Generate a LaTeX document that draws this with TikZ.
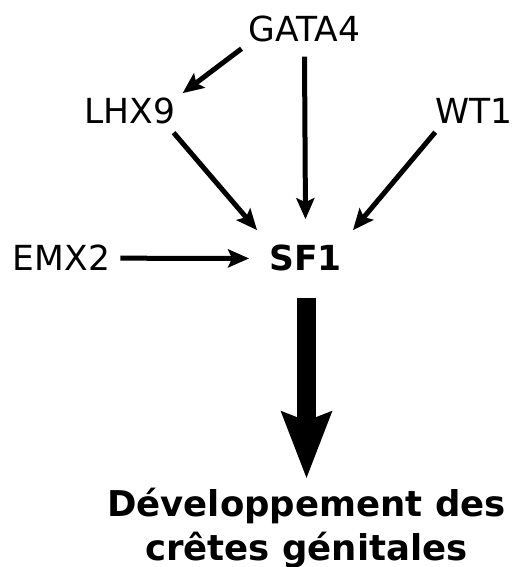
\documentclass[tikz,border=0pt]{standalone}
\usepackage{fontspec}
\setmainfont{DejaVu Sans}
\usetikzlibrary{arrows.meta,calc}
\begin{document}
\begin{tikzpicture}[x=1pt,y=-1pt,
  gene/.style={inner sep=0pt,anchor=base,font=\fontsize{34.5}{40}\selectfont},
  hub/.style={gene,font=\fontsize{34.5}{40}\selectfont\bfseries},
  link/.style={line width=5pt,-{Stealth[length=21pt,width=18pt,inset=4pt]}},
  big/.style={line width=19pt,-{Stealth[length=66pt,width=48pt,inset=8pt]}},
  result/.style={inner sep=0pt,anchor=north,align=center,font=\fontsize{35.5}{44}\selectfont\bfseries}]
\useasboundingbox (0,0) rectangle (513,567);
\node[gene] (gata) at (304.5,42) {GATA4};
\node[gene] (lhx) at (130,124) {LHX9};
\node[gene] (wt) at (474,124) {WT1};
\node[gene] (emx) at (61.5,270) {EMX2};
\node[hub] (sf) at (305.5,270) {SF1};
\node[result] (dev) at (306.5,488) {Développement des\\crêtes génitales};
\draw[link] ($(gata.south west)+(-7,6)$) -- ($(lhx.north east)+(7,-5)$);
\draw[link] ($(gata.south)+(0,14)$) -- ($(gata.south)!1!(sf.north)+(0,-25)$);
\draw[link] ($(lhx.south east)+(-2,8)$) -- ($(sf.north west)+(-12,-14)$);
\draw[link] ($(wt.south west)+(0,8)$) -- ($(sf.north east)+(11,-14)$);
\draw[link] ($(emx.east)+(10,1)$) -- ($(sf.west)+(-20,1)$);
\draw[big] ($(sf.south)+(1,27)$) -- ($(dev.north)+(0,-9)$);
\end{tikzpicture}
\end{document}
